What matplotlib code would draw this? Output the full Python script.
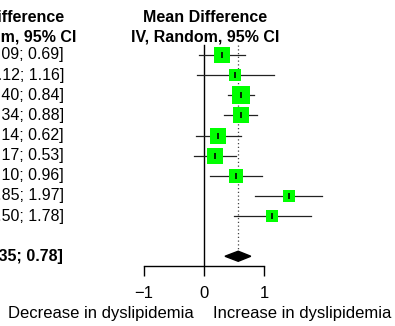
#!/usr/bin/env python3
"""Forest plot (cropped view): mean difference in dyslipidemia, random effects."""
import matplotlib
matplotlib.use("Agg")
import matplotlib.pyplot as plt
from matplotlib.patches import Polygon
import numpy as np

plt.rcParams["font.family"] = ["Liberation Sans", "DejaVu Sans"]

# study-level mean differences with 95% CI
MD = [0.30, 0.52, 0.62, 0.61, 0.24, 0.18, 0.53, 1.41, 1.14]
LO = [-0.09, -0.12, 0.40, 0.34, -0.14, -0.17, 0.10, 0.85, 0.50]
HI = [0.69, 1.16, 0.84, 0.88, 0.62, 0.53, 0.96, 1.97, 1.78]
WEIGHT = [11.7, 7.8, 15.5, 14.4, 11.7, 12.8, 10.6, 7.8, 7.8]  # % (random)

# pooled estimate
POOL_MD, POOL_LO, POOL_HI = 0.57, 0.35, 0.78

XTICKS = [-1, 0, 1]
LEFT_LABEL = "Decrease in dyslipidemia"
RIGHT_LABEL = "Increase in dyslipidemia"

W, H = 395, 326
X0, PX_PER_UNIT = 204, 60          # pixel of x=0, pixels per unit
ROW1, ROW_STEP = 55, 20.125        # pixel of row 1, pixels per row
AXIS_PX = 266                      # pixel row of the x axis line

FS = 11.5      # value column + headers
FS_AX = 12     # axis text


def row_of(py):
    return 1 + (py - ROW1) / ROW_STEP


def x_of(px):
    return (px - X0) / PX_PER_UNIT


fig = plt.figure(figsize=(W / 100, H / 100), dpi=100)
ax = fig.add_axes([0, (H - AXIS_PX) / H, 1, AXIS_PX / H])
ax.set_xlim(x_of(0), x_of(W))
ax.set_ylim(row_of(AXIS_PX), row_of(0))

rows = np.arange(1, len(MD) + 1)
pool_row = len(MD) + 2

# reference lines
ax.plot([0, 0], [row_of(45), row_of(AXIS_PX)], color="black", lw=1.0, zorder=1)
ax.plot([POOL_MD, POOL_MD], [row_of(45), pool_row - 0.25], color="#444444",
        lw=0.9, ls=(0, (1, 2)), zorder=1)

# study squares + CIs
side_px = 4.394 * np.sqrt(WEIGHT)
for r, m, lo, hi, s in zip(rows, MD, LO, HI, side_px):
    ax.plot([lo, hi], [r, r], color="#222222", lw=0.9, zorder=2)
    ax.plot(m, r, marker="s", ms=s * 0.72, color="#00ff00", mec="#00ff00",
            mew=0, zorder=3)
    ax.plot(m, r, marker="|", ms=4, mew=1.2, color="black", zorder=4)

# pooled diamond
ax.add_patch(Polygon([[POOL_LO, pool_row], [POOL_MD, pool_row - 0.25],
                      [POOL_HI, pool_row], [POOL_MD, pool_row + 0.25]],
                     closed=True, color="black", zorder=3))

# value column (clipped at the figure edge like the original crop)
for r, m, lo, hi in zip(rows, MD, LO, HI):
    ax.text(x_of(64), r, f"{m:5.2f} [{lo:5.2f}; {hi:4.2f}]", ha="right",
            va="center", fontsize=FS, clip_on=False)
ax.text(x_of(63), pool_row, f"{POOL_MD:.2f} [{POOL_LO:.2f}; {POOL_HI:.2f}]",
        ha="right", va="center", fontsize=FS, weight="bold", clip_on=False)

# headers
for xc in (x_of(2.3), x_of(205.5)):
    ax.text(xc, row_of(21.5), "Mean Difference", ha="center", va="baseline",
            fontsize=FS, weight="bold", clip_on=False)
    ax.text(xc, row_of(41.5), "IV, Random, 95% CI", ha="center", va="baseline",
            fontsize=FS, weight="bold", clip_on=False)

# x axis
for side in ("top", "left", "right"):
    ax.spines[side].set_visible(False)
ax.spines["bottom"].set_bounds(-1, 1)
ax.spines["bottom"].set_linewidth(1.0)
ax.set_yticks([])
ax.set_xticks(XTICKS)
ax.set_xticklabels(["\u22121", "0", "1"])
ax.tick_params(axis="x", length=7.2, width=1.0, pad=7, labelsize=FS_AX)

ax.text(x_of(194), row_of(318), LEFT_LABEL, ha="right", va="baseline",
        fontsize=FS_AX, clip_on=False)
ax.text(x_of(213), row_of(318), RIGHT_LABEL, ha="left", va="baseline",
        fontsize=FS_AX, clip_on=False)

fig.savefig("out.png", dpi=100)
